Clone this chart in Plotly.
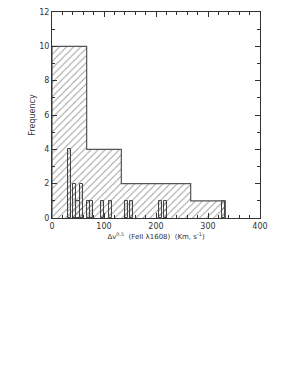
import plotly.graph_objects as go

# Coarse histogram (bin edges and counts)
coarse_edges = [0, 66.67, 133.33, 200, 266.67, 333.33]
coarse_counts = [10, 4, 2, 2, 1]

# Fine histogram (left edges, common width, counts)
fine_left = [30, 40, 46.5, 53.5, 66.5, 73, 94, 109.5, 140, 150, 205, 215, 326.8]
fine_width = 6.5
fine_counts = [4, 2, 1, 2, 1, 1, 1, 1, 1, 1, 1, 1, 1]

x_tick_vals = [0, 100, 200, 300, 400]
y_tick_vals = [0, 2, 4, 6, 8, 10, 12]

coarse_centers = [(a + b) / 2 for a, b in zip(coarse_edges[:-1], coarse_edges[1:])]
coarse_widths = [b - a for a, b in zip(coarse_edges[:-1], coarse_edges[1:])]
fine_centers = [l + fine_width / 2 for l in fine_left]

fig = go.Figure()

# coarse hatched fill
fig.add_trace(go.Bar(
    x=coarse_centers, y=coarse_counts, width=coarse_widths,
    marker=dict(color="rgba(0,0,0,0)",
                line=dict(width=0),
                pattern=dict(shape="/", fgcolor="#333", bgcolor="rgba(0,0,0,0)",
                             size=5, solidity=0.18)),
    showlegend=False, hoverinfo="skip"))

# coarse step outline
step_x = [coarse_edges[0]]
step_y = [0]
for i, c in enumerate(coarse_counts):
    step_x += [coarse_edges[i], coarse_edges[i + 1]]
    step_y += [c, c]
step_x.append(coarse_edges[-1])
step_y.append(0)
fig.add_trace(go.Scatter(x=step_x, y=step_y, mode="lines",
                         line=dict(color="#555", width=1.2),
                         showlegend=False, hoverinfo="skip"))

# fine bars
fig.add_trace(go.Bar(
    x=fine_centers, y=fine_counts, width=[fine_width] * len(fine_left),
    marker=dict(color="rgba(0,0,0,0)",
                line=dict(width=1, color="#444"),
                pattern=dict(shape="/", fgcolor="#333", bgcolor="rgba(0,0,0,0)",
                             size=4, solidity=0.25)),
    showlegend=False, hoverinfo="skip"))

fig.update_layout(
    width=295, height=382,
    margin=dict(l=44, r=43, t=4, b=172, autoexpand=False),
    paper_bgcolor="white", plot_bgcolor="white",
    barmode="overlay", bargap=0,
    font=dict(family="DejaVu Sans", size=8, color="#333"),
    xaxis=dict(range=[0, 400], tickvals=x_tick_vals, ticks="inside", ticklen=5,
               tickcolor="#333", showline=True, linecolor="#333", linewidth=1,
               mirror="allticks", showgrid=False, zeroline=False, automargin=False,
               minor=dict(dtick=20, ticks="inside", ticklen=3, tickcolor="#333"),
               tickfont=dict(size=8), ticklabeloverflow="allow",
               title=dict(text="Δv<sup>0.5</sup>  (FeII λ1608)  (Km, s<sup>-1</sup>)",
                          font=dict(size=7), standoff=0)),
    yaxis=dict(range=[0, 12], tickvals=y_tick_vals, ticks="inside", ticklen=5,
               tickcolor="#333", showline=True, linecolor="#333", linewidth=1,
               mirror="allticks", showgrid=False, zeroline=False, automargin=False,
               minor=dict(dtick=1, ticks="inside", ticklen=3, tickcolor="#333"),
               tickfont=dict(size=8), ticklabeloverflow="allow",
               title=dict(text="Frequency", font=dict(size=8), standoff=2)),
)

fig.write_html("out.html")
